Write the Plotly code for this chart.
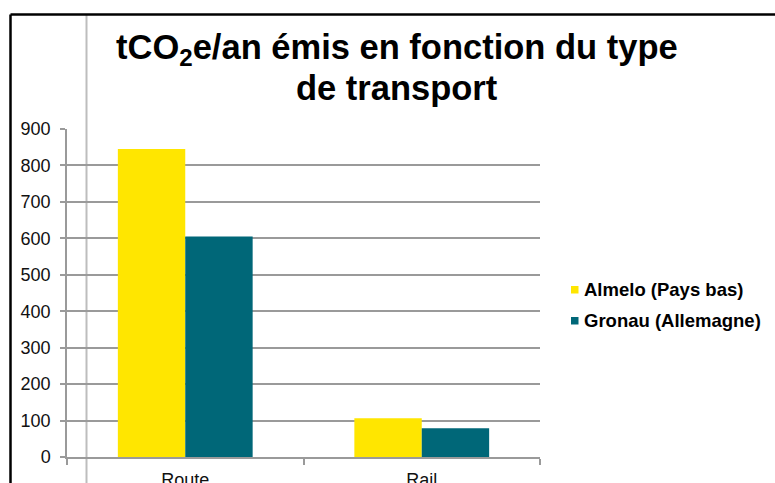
import plotly.graph_objects as go

# Emissions by transport mode (tCO2e per year)
categories = ["Route", "Rail"]
almelo = [845, 106]
gronau = [605, 79]
series_names = ["Almelo (Pays bas)", "Gronau (Allemagne)"]
series_colors = ["#FFE600", "#006778"]
y_ticks = [0, 100, 200, 300, 400, 500, 600, 700, 800, 900]
title_lines = ["<b>tCO<sub>2</sub>e/an émis en fonction du type</b>",
               "<b>de transport</b>"]

W, H = 775, 483
# plot area in pixels
PL, PR, PT, PB = 67, 540, 129, 457


def px_x(px):
    return (px - PL) / (PR - PL)


def px_y(py):
    return (PB - py) / (PB - PT)


font = "Arial, 'Liberation Sans', sans-serif"
grey = "#9a9a9a"

fig = go.Figure()
for name, vals, col in zip(series_names, [almelo, gronau], series_colors):
    fig.add_trace(go.Bar(x=categories, y=vals, name=name,
                         marker=dict(color=col, line=dict(width=0)),
                         showlegend=False))

fig.update_layout(
    width=W, height=H,
    margin=dict(l=PL, r=W - PR, t=PT, b=H - PB, autoexpand=False),
    paper_bgcolor="white", plot_bgcolor="white",
    barmode="group", bargap=0.43, bargroupgap=0,
    xaxis=dict(
        type="category", tickson="boundaries", ticks="outside", ticklen=6,
        tickcolor=grey, tickwidth=1.5,
        showline=True, linecolor=grey, linewidth=1.5,
        showgrid=False, ticklabelstandoff=6,
        tickfont=dict(family=font, size=18, color="#111111"),
        range=[-0.5, 1.5],
    ),
    yaxis=dict(
        range=[0, 900], tickvals=y_ticks, ticks="outside", ticklen=5,
        tickcolor=grey, tickwidth=1.5,
        showline=True, linecolor=grey, linewidth=1.5,
        showgrid=True, gridcolor=grey, gridwidth=1.5,
        zeroline=False, ticklabelstandoff=6,
        tickfont=dict(family=font, size=18, color="#111111"),
    ),
)

# chart title, two centred lines
for text, cy in zip(title_lines, [49, 88]):
    fig.add_annotation(text=text, xref="paper", yref="paper",
                       x=px_x(397), y=px_y(cy), xanchor="center", yanchor="middle",
                       showarrow=False,
                       font=dict(family=font, size=34.5, color="#000000"))

# legend: small colour squares followed by the series names
for i, (name, col) in enumerate(zip(series_names, series_colors)):
    cy = 289 + 31 * i
    fig.add_shape(type="rect", xref="paper", yref="paper",
                  x0=px_x(571), x1=px_x(578.5), y0=px_y(cy - 3), y1=px_y(cy + 4.5),
                  fillcolor=col, line=dict(width=0), layer="above")
    fig.add_annotation(text="<b>" + name + "</b>", xref="paper", yref="paper",
                       x=px_x(582), y=px_y(cy), xanchor="left", yanchor="middle",
                       showarrow=False,
                       font=dict(family=font, size=18.5, color="#000000"))

# spreadsheet cell border passing behind the chart
fig.add_shape(type="line", xref="paper", yref="paper",
              x0=px_x(86.5), x1=px_x(86.5), y0=px_y(14), y1=px_y(H + 5),
              line=dict(color="#bdbdbd", width=2), layer="below")
# chart frame (left and top edges)
fig.add_shape(type="line", xref="paper", yref="paper",
              x0=px_x(10.5), x1=px_x(10.5), y0=px_y(14.5), y1=px_y(H + 5),
              line=dict(color="#000000", width=2.5), layer="above")
fig.add_shape(type="line", xref="paper", yref="paper",
              x0=px_x(10.5), x1=px_x(W + 5), y0=px_y(14.5), y1=px_y(14.5),
              line=dict(color="#000000", width=2.5), layer="above")

fig.write_html("out.html")
